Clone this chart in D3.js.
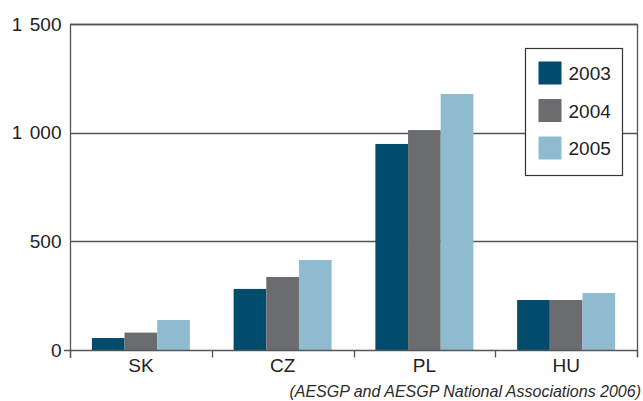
<!DOCTYPE html>
<html>
<head>
<meta charset="utf-8">
<script src="https://cdn.jsdelivr.net/npm/d3@7"></script>
<style>
  html, body { margin: 0; padding: 0; background: #fff; }
  svg { display: block; font-family: "Liberation Sans", Arial, sans-serif; }
</style>
</head>
<body>
<div id="chart"></div>
<script>
// data
const categories = ['SK', 'CZ', 'PL', 'HU'];
const years = ['2003', '2004', '2005'];
const values2003 = [55, 281, 948, 230];
const values2004 = [80, 336, 1012, 230];
const values2005 = [138, 414, 1178, 262];
const yTicks = [0, 500, 1000, 1500];
const sourceNote = '(AESGP and AESGP National Associations 2006)';

const colors = ['#014b6c', '#6b6c70', '#8fbbd1'];
const series = [values2003, values2004, values2005];

const W = 643, H = 401;
const margin = { top: 24, right: 6, bottom: 51, left: 70 };

const svg = d3.select('#chart').append('svg')
  .attr('width', W)
  .attr('height', H);

const x = d3.scaleBand()
  .domain(categories)
  .range([margin.left, W - margin.right]);

const x1 = d3.scaleBand()
  .domain(years)
  .range([0, x.bandwidth()])
  .paddingOuter(0.67)
  .paddingInner(0);

const y = d3.scaleLinear()
  .domain([0, 1500])
  .range([H - margin.bottom, margin.top]);

const lineColor = '#555';

// gridlines
svg.append('g')
  .selectAll('line')
  .data(yTicks.filter((d) => d > 0))
  .enter()
  .append('line')
  .attr('x1', margin.left)
  .attr('x2', W - margin.right)
  .attr('y1', (d) => Math.round(y(d)) + 0.5)
  .attr('y2', (d) => Math.round(y(d)) + 0.5)
  .attr('stroke', lineColor)
  .attr('stroke-width', 1.3);

// right frame
svg.append('line')
  .attr('x1', W - margin.right + 0.5)
  .attr('x2', W - margin.right + 0.5)
  .attr('y1', y(1500))
  .attr('y2', y(0) + 7)
  .attr('stroke', lineColor)
  .attr('stroke-width', 1.3);

// bars
const groups = svg.append('g')
  .selectAll('g')
  .data(categories)
  .enter()
  .append('g')
  .attr('transform', (d) => `translate(${x(d)},0)`);

groups.selectAll('rect')
  .data((c, i) => years.map((yr, j) => ({ yr, v: series[j][i], j })))
  .enter()
  .append('rect')
  .attr('x', (d) => x1(d.yr))
  .attr('width', x1.bandwidth())
  .attr('y', (d) => y(d.v))
  .attr('height', (d) => y(0) - y(d.v))
  .attr('fill', (d) => colors[d.j]);

// x axis
const xAxis = d3.axisBottom(x).tickSize(0).tickPadding(8);
const xg = svg.append('g')
  .attr('transform', `translate(0,${Math.round(y(0)) + 0.5})`)
  .call(xAxis);
xg.select('.domain')
  .attr('d', `M${margin.left - 6},0H${W - margin.right}`)
  .attr('stroke', lineColor)
  .attr('stroke-width', 1.3);
xg.selectAll('text')
  .attr('font-size', 19)
  .attr('fill', '#222')
  .attr('font-family', '"Liberation Sans", Arial, sans-serif');

// category boundary ticks
xg.append('g')
  .selectAll('line')
  .data(categories.map((c) => x(c)).concat([W - margin.right]))
  .enter()
  .append('line')
  .attr('x1', (d) => Math.round(d) + 0.5)
  .attr('x2', (d) => Math.round(d) + 0.5)
  .attr('y1', 0)
  .attr('y2', 7)
  .attr('stroke', lineColor)
  .attr('stroke-width', 1.3);

// y axis
const yAxis = d3.axisLeft(y)
  .tickValues(yTicks)
  .tickSize(0)
  .tickPadding(9)
  .tickFormat((d) => d3.format(',')(d).replace(',', '\u2009\u2009'));
const yg = svg.append('g')
  .attr('transform', `translate(${margin.left + 0.5},0)`)
  .call(yAxis);
yg.select('.domain')
  .attr('d', `M0,${y(1500)}V${y(0) + 8}`)
  .attr('stroke', lineColor)
  .attr('stroke-width', 1.3);
yg.selectAll('text')
  .attr('font-size', 19)
  .attr('fill', '#222')
  .attr('font-family', '"Liberation Sans", Arial, sans-serif');

// top line at 1500
svg.append('line')
  .attr('x1', margin.left)
  .attr('x2', W - margin.right + 1)
  .attr('y1', Math.round(y(1500)) + 0.5)
  .attr('y2', Math.round(y(1500)) + 0.5)
  .attr('stroke', lineColor)
  .attr('stroke-width', 1.3);

// legend
const legend = svg.append('g').attr('transform', 'translate(525.5,48.5)');
legend.append('rect')
  .attr('width', 97)
  .attr('height', 127)
  .attr('fill', '#fff')
  .attr('stroke', '#333')
  .attr('stroke-width', 1.2);

const items = legend.selectAll('g.item')
  .data(years)
  .enter()
  .append('g')
  .attr('class', 'item')
  .attr('transform', (d, i) => `translate(13,${13 + i * 37.5})`);

items.append('rect')
  .attr('width', 23)
  .attr('height', 23)
  .attr('fill', (d, i) => colors[i]);

items.append('text')
  .attr('x', 30)
  .attr('y', 12)
  .attr('dy', '0.35em')
  .attr('font-size', 19)
  .attr('fill', '#222')
  .text((d) => d);

// source note
svg.append('text')
  .attr('x', 641)
  .attr('y', 397)
  .attr('text-anchor', 'end')
  .attr('font-size', 16)
  .attr('font-style', 'italic')
  .attr('fill', '#2a2a2a')
  .text(sourceNote);
</script>
</body>
</html>
